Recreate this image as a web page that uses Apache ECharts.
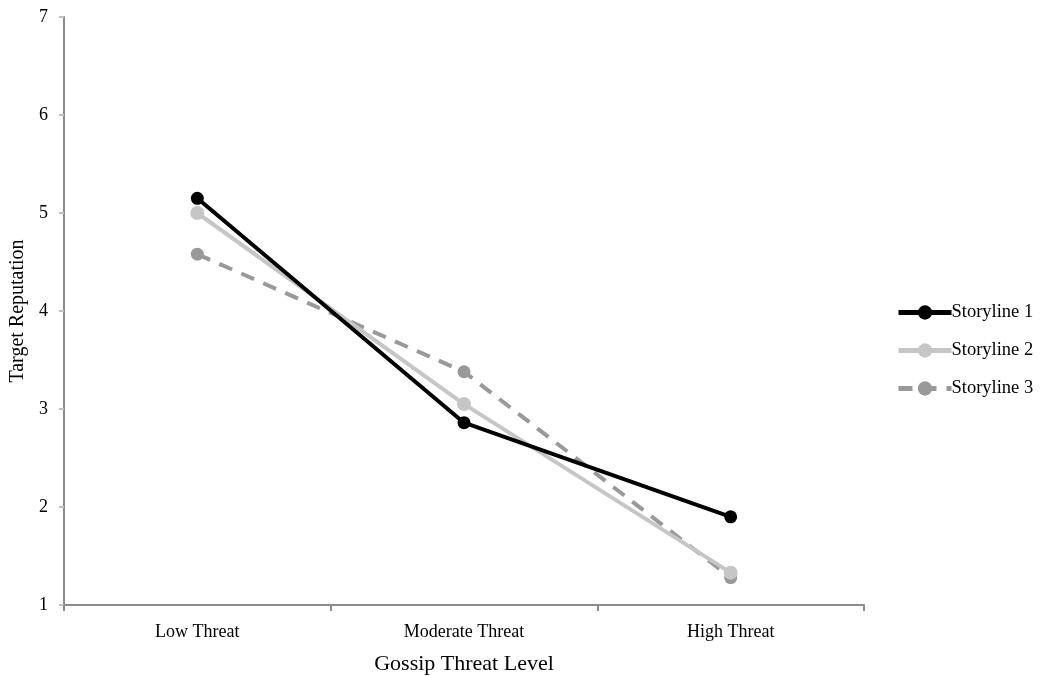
<!DOCTYPE html>
<html><head><meta charset="utf-8">
<script src="https://cdn.jsdelivr.net/npm/echarts@6/dist/echarts.min.js"></script>
<style>html,body{margin:0;padding:0;background:#fff}#c{width:1040px;height:676px}</style>
</head><body><div id="c"></div>
<script>
const categories = ['Low Threat', 'Moderate Threat', 'High Threat'];
const storyline1 = [5.15, 2.86, 1.90];
const storyline2 = [5.00, 3.05, 1.33];
const storyline3 = [4.58, 3.38, 1.28];
const seriesNames = ['Storyline 1', 'Storyline 2', 'Storyline 3'];
const yTicks = [1, 2, 3, 4, 5, 6, 7];

const font = 'Liberation Serif';
const chart = echarts.init(document.getElementById('c'));
chart.setOption({
  animation: false,
  backgroundColor: '#fff',
  grid: { left: 64, right: 176, top: 17, bottom: 71, containLabel: false, outerBoundsMode: 'none' },
  legend: {
    orient: 'vertical', left: 896, top: 303, itemGap: 19, padding: 0,
    itemWidth: 53, itemHeight: 18,
    lineStyle: { width: 5 },
    textStyle: { fontFamily: font, fontSize: 18.5, color: '#000', padding: [0,0,0,-5] },
    data: seriesNames
  },
  xAxis: {
    type: 'category', data: categories, boundaryGap: true,
    name: 'Gossip Threat Level', nameLocation: 'middle', nameGap: 48,
    nameTextStyle: { fontFamily: font, fontSize: 22, color: '#000' },
    axisLine: { lineStyle: { color: '#8c8c8c', width: 2 } },
    axisTick: { show: true, length: 6, lineStyle: { color: '#8c8c8c', width: 2 } },
    axisLabel: { fontFamily: font, fontSize: 18, color: '#000', margin: 18 }
  },
  yAxis: {
    type: 'value', min: yTicks[0], max: yTicks[yTicks.length - 1], interval: 1,
    name: 'Target Reputation', nameLocation: 'middle', nameGap: 31,
    nameTextStyle: { fontFamily: font, fontSize: 20, color: '#000' },
    axisLine: { show: true, lineStyle: { color: '#8c8c8c', width: 2 } },
    axisTick: { show: true, length: 5, lineStyle: { color: '#c0c0c0', width: 2 } },
    splitLine: { show: false },
    axisLabel: { fontFamily: font, fontSize: 18, color: '#000', margin: 16 }
  },
  series: [
    { name: seriesNames[0], type: 'line', data: storyline1, symbol: 'circle', symbolSize: 13,
      lineStyle: { color: '#000', width: 4 }, itemStyle: { color: '#000' }, z: 3 },
    { name: seriesNames[1], type: 'line', data: storyline2, symbol: 'circle', symbolSize: 14,
      lineStyle: { color: '#c6c6c6', width: 4 }, itemStyle: { color: '#c6c6c6' }, z: 2 },
    { name: seriesNames[2], type: 'line', data: storyline3, symbol: 'circle', symbolSize: 13,
      lineStyle: { color: '#999', width: 4, type: [14, 10] }, itemStyle: { color: '#999' }, z: 1 }
  ]
});
</script></body></html>
